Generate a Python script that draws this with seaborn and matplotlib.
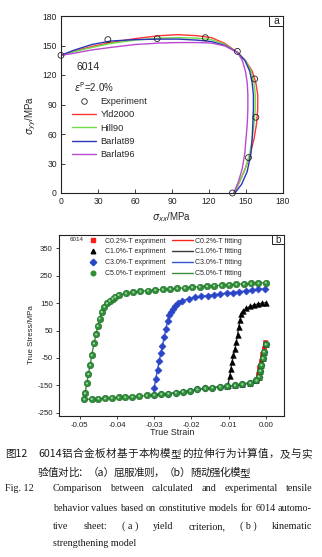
import numpy as np
import pandas as pd
import matplotlib
matplotlib.use("Agg")
import matplotlib.pyplot as plt
import seaborn as sns
from matplotlib.lines import Line2D
from matplotlib.patches import Rectangle
from matplotlib.ticker import FixedLocator, FormatStrFormatter

# ---------------- Panel (a) data: yield loci ----------------
exp_sxx = [0, 38, 78, 117, 143, 157, 158, 152, 139]
exp_syy = [140, 156, 157, 158, 144, 116, 77, 36, 0]

yld2000_sxx = [0, 10, 25, 40, 60, 80, 95, 110, 122, 133, 143, 150, 155, 158, 159.5, 159.5, 158.5, 156.5, 153.5, 149.5, 145, 140.5]
yld2000_syy = [140, 144, 149, 153, 157, 160, 161, 160, 158, 152, 143, 134, 124, 112, 100, 85, 70, 55, 40, 25, 12, 0]

hill90_sxx = [0, 10, 25, 40, 60, 80, 95, 110, 122, 133, 143, 150, 154, 156.5, 157.5, 157.5, 156.5, 155, 153, 149.5, 145, 140.5]
hill90_syy = [140, 143.5, 148, 152, 155.5, 157.5, 158, 157.5, 156, 151, 143, 134, 124, 112, 100, 85, 70, 55, 40, 25, 12, 0]

barlat89_sxx = [0, 10, 25, 40, 60, 80, 95, 110, 122, 133, 143, 149, 153, 155, 156, 156, 155.5, 155, 154, 151, 146.5, 141]
barlat89_syy = [140, 145, 151, 154.5, 156, 156.5, 156.5, 155.5, 154, 150, 143, 135, 124, 112, 100, 85, 70, 55, 40, 22, 9, 0]

barlat96_sxx = [0, 10, 25, 40, 60, 80, 95, 110, 122, 133, 143, 147, 149.5, 151, 151.5, 151.5, 151, 150, 149, 147, 144, 140]
barlat96_syy = [140, 142, 145.5, 148, 151, 152.5, 153, 153, 152.5, 149.5, 143, 135, 124, 112, 100, 85, 70, 55, 40, 25, 12, 0]

criteria = ["Yld2000", "Hill90", "Barlat89", "Barlat96"]
criteria_colors = ["#ff3434", "#6fdc4a", "#2a36b8", "#b94ad0"]

# ---------------- Panel (b) data: cyclic stress-strain ----------------
comp_strain = [0.0, -0.0005, -0.0008, -0.0012, -0.0015, -0.0019, -0.0025, -0.0042, -0.0063, -0.0083,
               -0.0103, -0.0123, -0.0144, -0.0163, -0.0184, -0.0203, -0.0223, -0.0242, -0.0262, -0.0281,
               -0.0300, -0.0320, -0.0340, -0.0359, -0.0378, -0.0396, -0.0414, -0.0432, -0.0450, -0.0468, -0.0488]
comp_stress = [0, -27, -51, -76, -97, -118, -132, -141, -146, -150,
               -153, -155, -158, -161, -165, -170, -173, -177, -180, -182,
               -185, -187, -189, -192, -193, -194, -196, -198, -199, -200, -201]

c02_rev_strain = [-0.0025, -0.0021, -0.0017, -0.0013, -0.0009, -0.0005, -0.0001]
c02_rev_stress = [-132, -108, -84, -60, -36, -13, 8]

c10_rev_strain = [-0.0102, -0.0097, -0.0094, -0.0091, -0.0087, -0.0083, -0.0079, -0.0076, -0.0073, -0.0069,
                  -0.0066, -0.0061, -0.0052, -0.0043, -0.0032, -0.0021, -0.0010, 0.0]
c10_rev_stress = [-150, -117, -90, -66, -41, -17, 10, 35, 62, 89,
                  110, 122, 131, 138, 143, 147, 150, 152]

c30_rev_strain = [-0.0300, -0.0296, -0.0291, -0.0287, -0.0282, -0.0278, -0.0273, -0.0269, -0.0264, -0.0260,
                  -0.0255, -0.0250, -0.0243, -0.0235, -0.0224, -0.0207, -0.0190, -0.0173, -0.0156, -0.0139,
                  -0.0122, -0.0105, -0.0088, -0.0071, -0.0054, -0.0037, -0.0020, -0.0003]
c30_rev_stress = [-160, -126, -94, -62, -33, -6, 25, 54, 86, 108,
                  119, 128, 139, 151, 159, 166, 171, 175, 178, 181,
                  184, 187, 189, 192, 194, 197, 200, 203]

c50_rev_strain = [-0.0486, -0.0481, -0.0477, -0.0472, -0.0468, -0.0462, -0.0456, -0.0452, -0.0447, -0.0441,
                  -0.0434, -0.0427, -0.0420, -0.0412, -0.0405, -0.0396, -0.0376, -0.0356, -0.0337, -0.0317,
                  -0.0297, -0.0277, -0.0257, -0.0238, -0.0218, -0.0198, -0.0178, -0.0158, -0.0139, -0.0119,
                  -0.0099, -0.0079, -0.0059, -0.0040, -0.0020, 0.0]
c50_rev_stress = [-179, -143, -109, -76, -40, 3, 36, 67, 94, 118,
                  137, 150, 159, 167, 173, 180, 186, 190, 193, 196,
                  198, 200, 202, 204, 206, 208, 210, 212, 214, 215,
                  217, 219, 220, 222, 223, 225]

series_names = ["C0.2%-T", "C1.0%-T", "C3.0%-T", "C5.0%-T"]
prestrain_end = [-0.0025, -0.0103, -0.0300, -0.0488]
rev_strains = [c02_rev_strain, c10_rev_strain, c30_rev_strain, c50_rev_strain]
rev_stresses = [c02_rev_stress, c10_rev_stress, c30_rev_stress, c50_rev_stress]
marker_styles = ["s", "^", "D", "o"]
marker_colors = ["#ff1c1c", "#000000", "#2a46c6", "#2f8f38"]
fit_colors = ["#ff2020", "#3a3a3a", "#3553d2", "#3c8c3c"]

# ---------------- style ----------------
sns.set_theme(style="ticks")
plt.rcParams["font.family"] = ["Liberation Sans", "DejaVu Sans"]
plt.rcParams["axes.unicode_minus"] = False
plt.rcParams["mathtext.fontset"] = "dejavusans"

W, H = 322, 557
fig = plt.figure(figsize=(W / 100, H / 100), dpi=100)
fig.patch.set_facecolor("white")


def px_axes(l, t, r, b):
    return fig.add_axes([l / W, 1 - b / H, (r - l) / W, (b - t) / H])


# ================= Panel (a) =================
axa = px_axes(61, 16, 283, 193)
curves_a = [(yld2000_sxx, yld2000_syy), (hill90_sxx, hill90_syy),
            (barlat89_sxx, barlat89_syy), (barlat96_sxx, barlat96_syy)]
for name, (xs, ys), col in zip(criteria, curves_a, criteria_colors):
    df = pd.DataFrame({"sxx": xs, "syy": ys})
    sns.lineplot(data=df, x="sxx", y="syy", sort=False, estimator=None, color=col,
                 lw=1.0, ax=axa, legend=False)
dfe = pd.DataFrame({"sxx": exp_sxx, "syy": exp_syy})
sns.scatterplot(data=dfe, x="sxx", y="syy", marker="o", s=18, facecolor="none",
                edgecolor="#222222", linewidth=0.6, ax=axa, legend=False, zorder=5, clip_on=False)
axa.set_xlim(0, 180)
axa.set_ylim(0, 180)
axa.xaxis.set_major_locator(FixedLocator([0, 30, 60, 90, 120, 150, 180]))
axa.yaxis.set_major_locator(FixedLocator([0, 30, 60, 90, 120, 150, 180]))
axa.tick_params(direction="in", length=3, width=0.6, labelsize=6.2, pad=3, colors="#222222")
for s in axa.spines.values():
    s.set_linewidth(0.8)
    s.set_color("#222222")
axa.set_xlabel(r"$\sigma_{xx}$/MPa", fontsize=7)
axa.set_ylabel(r"$\sigma_{yy}$/MPa", fontsize=7)
axa.xaxis.set_label_coords(0.5, -0.10)
axa.yaxis.set_label_coords(-0.105, 0.44)
axa.text(0.068, 0.714, "6014", transform=axa.transAxes, fontsize=7.5, va="center", ha="left")
axa.text(0.06, 0.60, r"$\varepsilon^{\rm P}$=2.0%", transform=axa.transAxes, fontsize=7,
         va="center", ha="left")
handles_a = [Line2D([], [], marker="o", ls="None", mfc="none", mec="#222222", ms=4, mew=0.6)]
handles_a += [Line2D([], [], color=c, lw=1.0) for c in criteria_colors]
axa.legend(handles_a, ["Experiment"] + criteria, loc="upper left", bbox_to_anchor=(0.0495, 0.541),
           frameon=False, fontsize=6.7, borderpad=0, borderaxespad=0, handlelength=2.6,
           handletextpad=0.45, labelspacing=0.45)
axa.add_patch(Rectangle((0.937, 0.944), 0.063, 0.056, transform=axa.transAxes, facecolor="white",
                        edgecolor="#222222", lw=0.7, zorder=6, clip_on=False))
axa.text(0.9685, 0.972, "a", transform=axa.transAxes, ha="center", va="center", fontsize=7.5, zorder=7)

# ================= Panel (b) =================
axb = px_axes(59, 235, 284, 416)
comp_s = np.array(comp_strain)
comp_t = np.array(comp_stress)
# fitted lines
for name, end, rs, rt, col in zip(series_names, prestrain_end, rev_strains, rev_stresses, fit_colors):
    m = comp_s >= end - 1e-9
    xs = list(comp_s[m]) + list(rs)
    ys = list(comp_t[m]) + list(rt)
    df = pd.DataFrame({"strain": xs, "stress": ys})
    sns.lineplot(data=df, x="strain", y="stress", sort=False, estimator=None, color=col,
                 lw=2.0 if name == "C0.2%-T" else 1.0, ax=axb, legend=False, zorder=2)
# experimental markers
sizes = [12, 16, 13, 22]
for name, end, rs, rt, mk, col, sz in zip(series_names, prestrain_end, rev_strains, rev_stresses,
                                           marker_styles, marker_colors, sizes):
    m = comp_s >= end - 1e-9
    xs = list(comp_s[m]) + list(rs)
    ys = list(comp_t[m]) + list(rt)
    df = pd.DataFrame({"strain": xs, "stress": ys})
    ec = "#1d6626" if mk == "o" else col
    sns.scatterplot(data=df, x="strain", y="stress", marker=mk, s=sz, color=col, edgecolor=ec,
                    linewidth=0.4, ax=axb, legend=False, zorder=3)
    if mk == "o":
        sns.scatterplot(data=df, x="strain", y="stress", marker="o", s=2.5, color="#9fd89f",
                        edgecolor="none", linewidth=0, ax=axb, legend=False, zorder=4)
axb.set_xlim(-0.0556, 0.0049)
axb.set_ylim(-262, 399)
axb.xaxis.set_major_locator(FixedLocator([-0.05, -0.04, -0.03, -0.02, -0.01, 0.0]))
axb.xaxis.set_major_formatter(FormatStrFormatter("%.2f"))
axb.yaxis.set_major_locator(FixedLocator([-250, -150, -50, 50, 150, 250, 350]))
axb.tick_params(direction="out", length=2.5, width=0.6, labelsize=5.6, pad=2, colors="#222222")
for s in axb.spines.values():
    s.set_linewidth(0.8)
    s.set_color("#222222")
axb.set_xlabel("True Strain", fontsize=6.5)
axb.set_ylabel("True Stress/MPa", fontsize=5.7)
axb.xaxis.set_label_coords(0.502, -0.068)
axb.yaxis.set_label_coords(-0.105, 0.447)
axb.text(0.048, 0.973, "6014", transform=axb.transAxes, fontsize=4.5, va="center", ha="left")
handles_b = [Line2D([], [], marker=mk, ls="None", color=c, mec=c, ms=3.3)
             for mk, c in zip(marker_styles, marker_colors)]
handles_b += [Line2D([], [], color=c, lw=1.0) for c in fit_colors]
labels_b = [n + " expriment" for n in series_names] + [n + " fitting" for n in series_names]
axb.legend(handles_b, labels_b, ncol=2, loc="upper left", bbox_to_anchor=(0.1044, 0.986),
           frameon=False, fontsize=5, borderpad=0, borderaxespad=0, handlelength=3.0,
           handletextpad=0.25, labelspacing=0.55, columnspacing=0.9)
axb.add_patch(Rectangle((0.947, 0.95), 0.053, 0.05, transform=axb.transAxes, facecolor="white",
                        edgecolor="#222222", lw=0.7, zorder=6, clip_on=False))
axb.text(0.9735, 0.975, "b", transform=axb.transAxes, ha="center", va="center", fontsize=7, zorder=7)

# ================= Caption =================
renderer = fig.canvas.get_renderer()


def ftext(x, y, s, **kw):
    # y is the baseline position in pixels from the top
    return fig.text(x / W, 1 - y / H, s, va="baseline", **kw)


def justify(tokens, x0, x1, y, **kw):
    objs = [ftext(0, y, t, ha="left", **kw) for t in tokens]
    widths = [o.get_window_extent(renderer).width for o in objs]
    gap = (x1 - x0 - sum(widths)) / max(len(tokens) - 1, 1)
    x = x0
    for o, w in zip(objs, widths):
        o.set_x(x / W)
        x += w + gap


cjk = dict(family=["Noto Sans CJK SC", "DejaVu Sans"], fontsize=7.6, color="#1a1a1a")
ftext(5, 457, "图12", ha="left", **cjk)
justify(["6014"] + list("铝合金板材基于本构模型的拉伸行为计算值，及与实"), 38, 312, 457, **cjk)
justify(["验", "值", "对", "比", "：", "（a）", "屈", "服", "准", "则", "，", "（b）",
         "随", "动", "强", "化", "模", "型"], 38, 250, 476, **cjk)

ser = dict(family=["Liberation Serif", "DejaVu Serif"], fontsize=7.3, color="#1a1a1a")
ftext(5, 491, "Fig. 12", ha="left", **ser)
justify("Comparison between calculated and experimental tensile".split(), 53, 312, 491, **ser)
justify("behavior values based on constitutive models for 6014 automo-".split(), 53, 312, 511, **ser)
justify(["tive", "sheet:", "( a )", "yield", "criterion,", "( b )", "kinematic"], 53, 312, 529, **ser)
ftext(53, 546, "strengthening model", ha="left", **ser)

fig.savefig("out.png", dpi=100, facecolor="white")
